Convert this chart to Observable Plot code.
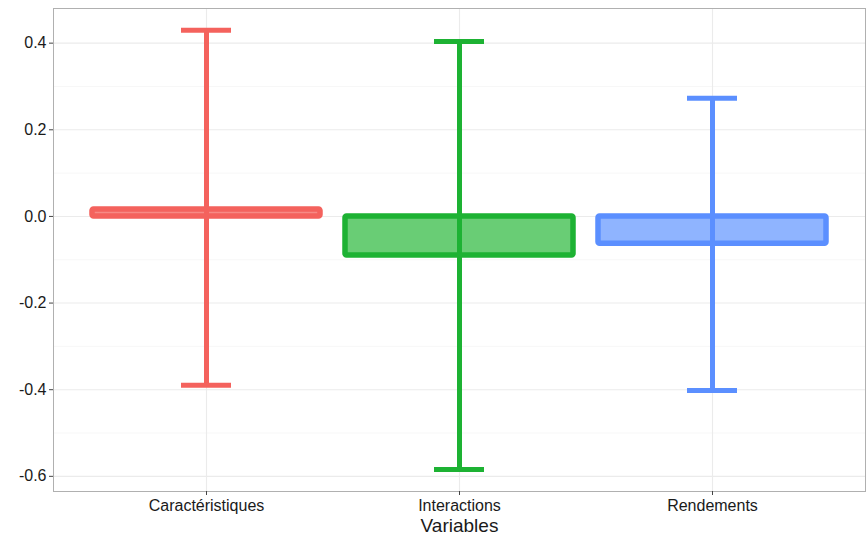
<!DOCTYPE html>
<html>
<head>
<meta charset="utf-8">
<script src="https://cdn.jsdelivr.net/npm/d3@7"></script>
<script src="https://cdn.jsdelivr.net/npm/@observablehq/plot@0.6"></script>
<style>
  html, body { margin: 0; padding: 0; background: #fff; }
  #chart svg { display: block; }
  #chart g[aria-label="x-axis label"] text { font-size: 19px; }
</style>
</head>
<body>
<div id="chart"></div>
<script>
const categories = ["Caractéristiques", "Interactions", "Rendements"];
const means = [0.016, -0.09, -0.063];
const lowers = [-0.39, -0.584, -0.402];
const uppers = [0.43, 0.404, 0.273];
const strokeColors = ["#F4625D", "#1DB233", "#5B8FFF"];
const fillColors = ["#F78A85", "#69CD75", "#8FB4FF"];
const majorTicks = [0.4, 0.2, 0.0, -0.2, -0.4, -0.6];
const minorTicks = [0.3, 0.1, -0.1, -0.3, -0.5];

const data = categories.map((c, i) => ({
  cat: c, mean: means[i], lo: lowers[i], hi: uppers[i],
  stroke: strokeColors[i], fill: fillColors[i]
}));

const font = "'Liberation Sans', Arial, Helvetica, sans-serif";

const chart = Plot.plot({
  width: 867,
  height: 535,
  marginLeft: 53,
  marginTop: 8,
  marginRight: 2,
  marginBottom: 44,
  style: { fontFamily: font, background: "#fff" },
  x: { type: "band", domain: categories, paddingInner: 0.1, paddingOuter: 0.15, axis: null },
  y: { domain: [-0.635, 0.48], axis: null },
  marks: [
    Plot.ruleY(minorTicks, { stroke: "#F3F3F3", strokeWidth: 0.7 }),
    Plot.ruleY(majorTicks, { stroke: "#EBEBEB", strokeWidth: 1.1 }),
    Plot.ruleX(categories, { x: d => d, stroke: "#EBEBEB", strokeWidth: 1.1 }),
    Plot.barY(data, {
      x: "cat", y1: 0, y2: "mean",
      fill: d => d.fill, stroke: d => d.stroke,
      strokeWidth: 5.5, rx: 1.5
    }),
    Plot.ruleX(data, { x: "cat", y1: "lo", y2: "hi", stroke: d => d.stroke, strokeWidth: 5 }),
    Plot.tickY(data, { x: "cat", y: "hi", stroke: d => d.stroke, strokeWidth: 5, insetLeft: 89, insetRight: 89 }),
    Plot.tickY(data, { x: "cat", y: "lo", stroke: d => d.stroke, strokeWidth: 5, insetLeft: 89, insetRight: 89 }),
    Plot.frame({ stroke: "#B0B0B0", strokeWidth: 1 }),
    Plot.axisY(majorTicks, {
      tickFormat: d => d.toFixed(1), tickSize: 4, tickPadding: 3,
      stroke: "#444", fill: "#1a1a1a", fontSize: 16, label: null
    }),
    Plot.axisX({
      tickSize: 4, tickPadding: 4, stroke: "#444", fill: "#1a1a1a", fontSize: 16,
      label: "Variables", labelAnchor: "center", labelArrow: "none", labelOffset: 40
    })
  ]
});
document.getElementById("chart").appendChild(chart);
</script>
</body>
</html>
